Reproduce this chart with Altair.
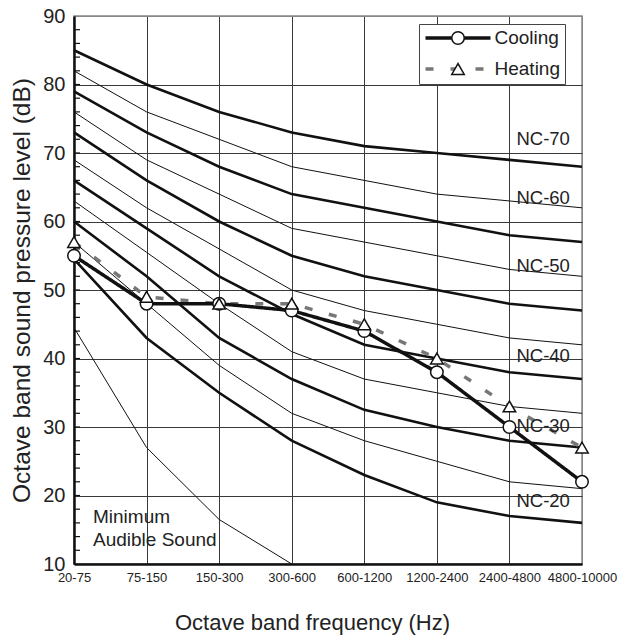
import altair as alt
import pandas as pd

FONT = "Liberation Sans"

BANDS = ["20-75", "75-150", "150-300", "300-600", "600-1200",
         "1200-2400", "2400-4800", "4800-10000"]

# NC curves (dB), one value per octave band
NC70 = [85, 80, 76, 73, 71, 70, 69, 68]
NC65 = [82, 76, 72, 68, 66, 64, 63, 62]
NC60 = [79, 73, 68, 64, 62, 60, 58, 57]
NC55 = [76, 69, 64, 59, 57, 55, 53, 52]
NC50 = [73, 66, 60, 55, 52, 50, 48, 47]
NC45 = [69, 62, 56, 50, 47, 45, 43, 42]
NC40 = [66, 59, 52, 46.5, 42, 40, 38, 37]
NC35 = [63, 55.5, 48, 41, 37, 35, 33, 32]
NC30 = [60, 52, 43, 37, 32.5, 30, 28, 27]
NC25 = [57, 48, 39, 32, 28, 25, 22, 21]
NC20 = [54.5, 43, 35, 28, 23, 19, 17, 16]
MIN_AUDIBLE = [44.5, 27, 16.5, 10]

COOLING = [55, 48, 48, 47, 44, 38, 30, 22]
HEATING = [57, 49, 48, 48, 45, 40, 33, 27]

NC_LABELS = ["NC-70", "NC-60", "NC-50", "NC-40", "NC-30", "NC-20"]
NC_LABEL_LEVELS = [72, 63.5, 53.5, 40.4, 30.1, 19.2]
MIN_LABEL = "Minimum\nAudible Sound"
MIN_LABEL_LEVEL = 16.9

Y_TICKS = [10, 20, 30, 40, 50, 60, 70, 80, 90]
Y_MINOR = list(range(12, 90, 2))

curves = [
    ("NC-70", NC70, "heavy"), ("NC-65", NC65, "thin"),
    ("NC-60", NC60, "heavy"), ("NC-55", NC55, "thin"),
    ("NC-50", NC50, "heavy"), ("NC-45", NC45, "thin"),
    ("NC-40", NC40, "heavy"), ("NC-35", NC35, "thin"),
    ("NC-30", NC30, "heavy"), ("NC-25", NC25, "thin"),
    ("NC-20", NC20, "heavy"), ("MIN", MIN_AUDIBLE, "thin"),
]
nc_rows = []
for name, vals, w in curves:
    for i, v in enumerate(vals):
        nc_rows.append({"curve": name, "band": BANDS[i], "idx": i, "level": v, "weight": w})
nc_df = pd.DataFrame(nc_rows)

meas_rows = []
for name, vals in [("Cooling", COOLING), ("Heating", HEATING)]:
    for i, v in enumerate(vals):
        meas_rows.append({"Series": name, "Mode": name, "band": BANDS[i], "idx": i, "level": v})
meas_df = pd.DataFrame(meas_rows)

lbl_df = pd.DataFrame({"label": NC_LABELS, "level": NC_LABEL_LEVELS, "band": "2400-4800"})
min_df = pd.DataFrame({"label": [MIN_LABEL], "level": [MIN_LABEL_LEVEL], "band": ["20-75"]})
tick_df = pd.DataFrame({"level": Y_MINOR})

X = alt.X(
    "band:O",
    scale=alt.Scale(type="point", domain=BANDS, padding=0),
    axis=alt.Axis(
        title="Octave band frequency (Hz)", labelAngle=0, labelFontSize=13,
        labelPadding=7, ticks=False, grid=True,
        gridColor={"condition": {"test": "datum.value == '4800-10000'", "value": "#888"}, "value": "#3a3a3a"},
        titleFontSize=22, titlePadding=28, titleFontWeight="normal", titleX=238,
    ),
)
Y = alt.Y(
    "level:Q",
    scale=alt.Scale(domain=[10, 90], nice=False, zero=False),
    axis=alt.Axis(
        title="Octave band sound pressure level (dB)", values=Y_TICKS,
        labelFontSize=20, labelPadding=9, ticks=False, grid=True,
        gridColor={"condition": {"test": "datum.value == 90", "value": "#888"}, "value": "#3a3a3a"},
        titleFontSize=24.5, titlePadding=8, titleFontWeight="normal",
    ),
)

nc_layer = alt.Chart(nc_df).mark_line(color="#111").encode(
    x=X, y=Y, detail="curve:N", order=alt.Order("idx:Q"),
    strokeWidth=alt.StrokeWidth("weight:N", scale=alt.Scale(domain=["heavy", "thin"], range=[2.6, 1.0]), legend=None),
)

minor_ticks = alt.Chart(tick_df).mark_rule(color="#111", strokeWidth=1.2).encode(
    y=Y, x=alt.value(0), x2=alt.value(6)
)

legend_line = dict(
    orient="none", legendX=345, legendY=8, title=None, symbolType="M-5,0H5",
    symbolSize=169, symbolStrokeWidth=3.5, symbolOffset=25,
    labelFontSize=19, labelOffset=27, labelFont=FONT, labelColor="#222",
    padding=4.5, rowPadding=11, fillColor="white", strokeColor="#444", zindex=1,
)
color_enc = alt.Color("Series:N", scale=alt.Scale(domain=["Cooling", "Heating"], range=["#111", "#777"]),
                      legend=alt.Legend(**legend_line))
dash_enc = alt.StrokeDash("Series:N", scale=alt.Scale(domain=["Cooling", "Heating"], range=[[1, 0], [8, 17]]),
                          legend=alt.Legend(**legend_line))

heat_line = alt.Chart(meas_df).transform_filter("datum.Series == 'Heating'").mark_line(strokeWidth=3.5).encode(
    x=X, y=Y, order=alt.Order("idx:Q"), color=color_enc, strokeDash=dash_enc
)
cool_line = alt.Chart(meas_df).transform_filter("datum.Series == 'Cooling'").mark_line(strokeWidth=3.5).encode(
    x=X, y=Y, order=alt.Order("idx:Q"), color=color_enc, strokeDash=dash_enc
)

points = alt.Chart(meas_df).mark_point(
    filled=False, fill="white", stroke="#111", strokeWidth=1.5, size=156, opacity=1, fillOpacity=1
).encode(
    x=X, y=Y,
    shape=alt.Shape("Mode:N", scale=alt.Scale(range=["circle", "triangle-up"]),
                    legend=alt.Legend(orient="none", legendX=345, legendY=8, title=None,
                                      symbolSize=156, symbolStrokeWidth=1.5, symbolOffset=25,
                                      labelFontSize=19, labelOffset=27, labelOpacity=0,
                                      padding=4.5, rowPadding=11, zindex=5)),
)

nc_text = alt.Chart(lbl_df).mark_text(
    align="left", baseline="middle", dx=7, fontSize=18.5, font=FONT, color="#222"
).encode(x=X, y=Y, text="label:N")

min_text = alt.Chart(min_df).mark_text(
    align="left", baseline="middle", dx=19, fontSize=19, font=FONT, color="#222",
    lineBreak="\n", lineHeight=23
).encode(x=X, y=Y, text="label:N")

chart = alt.layer(
    nc_layer, minor_ticks, heat_line, cool_line, points, nc_text, min_text
).properties(
    width=508, height=548,
    autosize=alt.AutoSizeParams(type="none"),
    padding={"left": 74, "top": 16, "right": 39, "bottom": 73},
    background="white",
).configure(
    font=FONT
).configure_view(
    stroke="#888", strokeWidth=1.5
).configure_axis(
    domainColor="#111", domainWidth=2.5, labelColor="#222", titleColor="#222",
    labelFont=FONT, titleFont=FONT, gridWidth=1,
)

chart.save("out.html", embed_options={"renderer": "svg", "actions": False})
